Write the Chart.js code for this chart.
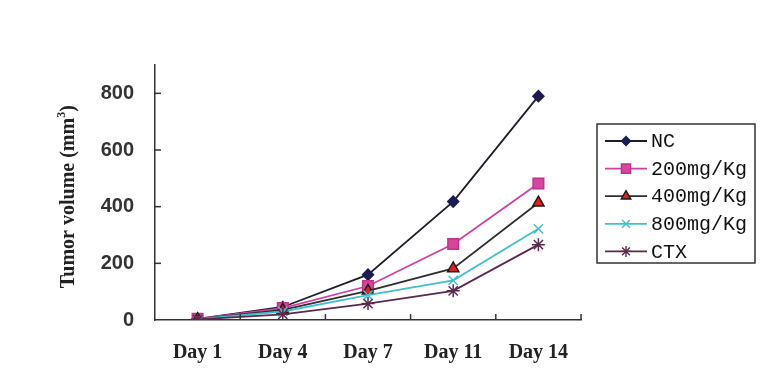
<!DOCTYPE html>
<html>
<head>
<meta charset="utf-8">
<script src="https://cdn.jsdelivr.net/npm/chart.js@4/dist/chart.umd.min.js"></script>
<style>
html,body{margin:0;padding:0;background:#fff;}
#wrap{width:780px;height:382px;}
</style>
</head>
<body>
<div id="wrap"><canvas id="c" width="780" height="382"></canvas></div>
<script>
const categories = ["Day 1", "Day 4", "Day 7", "Day 11", "Day 14"];
const seriesNames = ["NC", "200mg/Kg", "400mg/Kg", "800mg/Kg", "CTX"];
const ncValues    = [4, 46, 160, 418, 790];
const mg200Values = [4, 42, 120, 268, 482];
const mg400Values = [3, 36, 103, 182, 414];
const mg800Values = [3, 30, 88, 140, 322];
const ctxValues   = [2, 20, 58, 103, 266];
const yTicks = [0, 200, 400, 600, 800];
const yMax = 900;

const styles = [
  {line:'#1e1e2a', fill:'#1c1c52', stroke:'#1c1c52', point:'rectRot', r:5.5, lr:4.5},
  {line:'#d040a0', fill:'#d8449e', stroke:'#c0338a', point:'rect', r:7.5, lr:6.5},
  {line:'#2e2e2e', fill:'#e02020', stroke:'#1a1a1a', point:'triangle', r:6.5, lr:5.5},
  {line:'#40c0d0', fill:'#40c0d0', stroke:'#40c0d0', point:'crossRot', r:6.5, lr:5.5},
  {line:'#5a2a4e', fill:'#5a2a4e', stroke:'#5a2a4e', point:'star', r:6.5, lr:5.5}
];
const allValues = [ncValues, mg200Values, mg400Values, mg800Values, ctxValues];

const datasets = allValues.map((vals, i) => ({
  label: seriesNames[i],
  data: vals,
  borderColor: styles[i].line,
  borderWidth: 1.8,
  pointStyle: styles[i].point,
  pointRadius: styles[i].r,
  pointBackgroundColor: styles[i].fill,
  pointBorderColor: styles[i].stroke,
  pointBorderWidth: 1.5,
  tension: 0,
  fill: false
})).reverse();

const decor = {
  id: 'decor',
  afterDraw(chart) {
    const ctx = chart.ctx;
    const xs = chart.scales.x, ys = chart.scales.y;
    const area = chart.chartArea;
    ctx.save();
    ctx.strokeStyle = '#333';
    ctx.lineWidth = 1.5;
    yTicks.forEach(v => {
      if (v === 0) return;
      const y = ys.getPixelForValue(v);
      ctx.beginPath(); ctx.moveTo(area.left, y); ctx.lineTo(area.left + 6, y); ctx.stroke();
    });
    const step = (xs.getPixelForValue(1) - xs.getPixelForValue(0));
    for (let i = 0; i < categories.length; i++) {
      const x = xs.getPixelForValue(i) + step / 2;
      ctx.beginPath(); ctx.moveTo(x, area.bottom); ctx.lineTo(x, area.bottom - 6); ctx.stroke();
    }
    // y title
    ctx.fillStyle = '#222';
    const big = 'bold 20px "Liberation Serif", serif', small = 'bold 12px "Liberation Serif", serif';
    ctx.translate(69, (ys.getPixelForValue(0) + ys.getPixelForValue(800)) / 2 - 10);
    ctx.rotate(-Math.PI / 2);
    ctx.textBaseline = 'middle';
    const t1 = 'Tumor volume (mm', t3 = ')';
    ctx.font = big;
    const w1 = ctx.measureText(t1).width, w3 = ctx.measureText(t3).width;
    ctx.font = small;
    const w2 = ctx.measureText('3').width;
    const total = w1 + w2 + w3;
    let x0 = -total / 2;
    ctx.textAlign = 'left';
    ctx.font = big;
    ctx.fillText(t1, x0, 0);
    ctx.font = small;
    ctx.fillText('3', x0 + w1, -7);
    ctx.font = big;
    ctx.fillText(t3, x0 + w1 + w2, 0);
    ctx.restore();

    // legend
    ctx.save();
    const bx = 597, by = 124, bw = 158, bh = 139;
    ctx.strokeStyle = '#333';
    ctx.lineWidth = 1.5;
    ctx.strokeRect(bx, by, bw, bh);
    const rowH = 27.6;
    seriesNames.forEach((name, i) => {
      const y = by + 17 + i * rowH;
      const st = styles[i];
      ctx.strokeStyle = st.line;
      ctx.lineWidth = 1.8;
      ctx.beginPath(); ctx.moveTo(605, y); ctx.lineTo(647, y); ctx.stroke();
      ctx.fillStyle = st.fill;
      ctx.strokeStyle = st.stroke;
      ctx.lineWidth = 1.4;
      Chart.helpers.drawPoint(ctx, {pointStyle: st.point, radius: st.lr, rotation: 0, borderWidth: 1.4}, 626, y);
      ctx.fillStyle = '#111';
      ctx.font = '20px "Liberation Mono", monospace';
      ctx.textBaseline = 'middle';
      ctx.textAlign = 'left';
      ctx.fillText(name, 651, y + 1);
    });
    ctx.restore();
  }
};

new Chart(document.getElementById('c'), {
  type: 'line',
  data: { labels: categories, datasets: datasets },
  options: {
    responsive: false,
    animation: false,
    devicePixelRatio: 1,
    layout: { padding: { left: 0, top: 65, right: 199, bottom: 0 } },
    plugins: { legend: { display: false }, tooltip: { enabled: false } },
    scales: {
      x: {
        type: 'category',
        offset: true,
        grid: { display: true, drawOnChartArea: false, drawTicks: false, offset: true, color: 'rgba(0,0,0,0)' },
        border: { display: true, color: '#333', width: 1.5 },
        ticks: { color: '#222', font: { family: '"Liberation Serif", serif', size: 20, weight: 'bold' }, padding: 21, maxRotation: 0 },
        afterFit(s) { s.height = 62; }
      },
      y: {
        min: 0, max: yMax,
        grid: { display: true, drawOnChartArea: false, drawTicks: false, color: 'rgba(0,0,0,0)' },
        border: { display: true, color: '#333', width: 1.5 },
        ticks: { color: '#333', font: { family: '"Liberation Sans", sans-serif', size: 20, weight: 'bold' }, padding: 21 },
        afterBuildTicks(s) { s.ticks = yTicks.map(v => ({ value: v })); },
        afterFit(s) { s.width = 155; }
      }
    }
  },
  plugins: [decor]
});
</script>
</body>
</html>
